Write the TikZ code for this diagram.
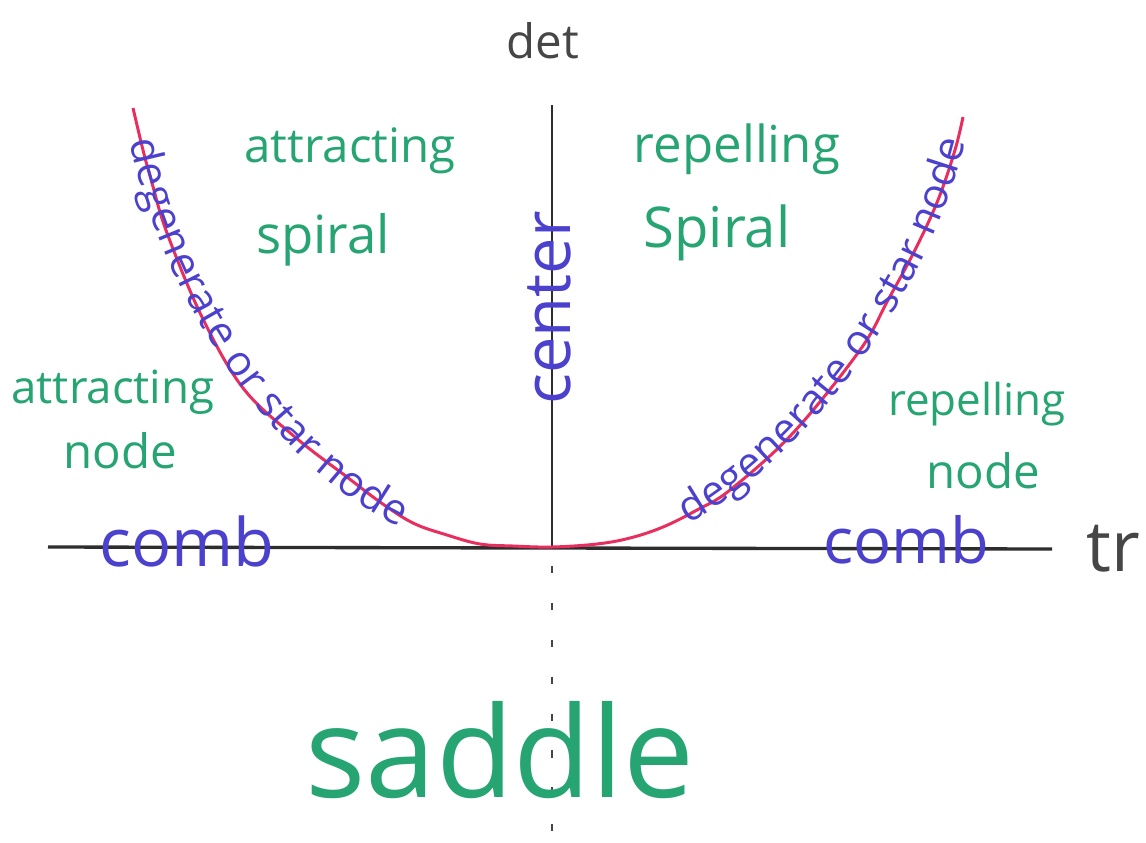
\documentclass[tikz,border=0pt]{standalone}
\usepackage{fontspec}
\setmainfont{Open Sans}
\usetikzlibrary{decorations.text}
\definecolor{mkgreen}{RGB}{38,165,115}
\definecolor{mkblue}{RGB}{75,65,205}
\definecolor{mkred}{RGB}{232,45,95}
\definecolor{axisgray}{RGB}{45,45,45}
\definecolor{pencil}{RGB}{70,70,70}
\tikzset{
  greenlbl/.style={text=mkgreen, inner sep=0pt, anchor=base},
  bluelbl/.style={text=mkblue, inner sep=0pt, anchor=base},
  pencillbl/.style={text=pencil, inner sep=0pt, anchor=base},
  axisline/.style={draw=axisgray, line width=1.9pt},
  vaxisline/.style={draw=axisgray, line width=1.4pt},
  dashaxis/.style={draw=pencil, line width=1.3pt, dash pattern=on 4pt off 17pt},
  curveline/.style={draw=mkred, line width=1.7pt},
}
\newcommand{\fs}[1]{\fontsize{#1}{#1}\selectfont}
\begin{document}
\begin{tikzpicture}[x=0.02cm, y=-0.02cm]
\useasboundingbox (0,0) rectangle (1146,842);
\fill[white] (0,0) rectangle (1146,842);
% axes
\coordinate (xl) at (48,547);
\coordinate (xr) at (1052,549);
\coordinate (yt) at (552,105);
\coordinate (o) at (552,547);
\coordinate (ds) at (552,566);
\coordinate (yb) at (552,842);
\draw[axisline] (xl) -- (xr);
\draw[vaxisline] (yt) -- (o);
\draw[dashaxis] (ds) -- (yb);
% axis labels
\node[pencillbl, font=\fs{27}] (det) at (543,58) {det};
\node[pencillbl, font=\fs{40}] (tr) at (1113,571) {tr};
% red curve det = tr^2/4
\draw[curveline] plot[smooth, tension=0.6] coordinates {
  (133,108) (143,150) (152,183) (167,233) (202,317) (243,388) (295,437)
  (347,477) (380,502) (413,523) (447,535) (480,544) (513,546) (552,547)
  (597,544) (630,538) (663,527) (697,510) (730,490) (793,433) (860,350)
  (888,300) (915,250) (938,200) (955,150) (963,117)};
% text along the curve
\coordinate (la) at (136,126);
\coordinate (lb) at (416,524);
\coordinate (ra) at (678,520);
\coordinate (rb) at (959,133);
\path[decorate, decoration={text along path, text align=center, raise=-5pt,
  text={|\fs{24}\color{mkblue}|degenerate or star node}}]
  (la) .. controls (170,310) and (300,480) .. (lb);
\path[decorate, decoration={text along path, text align=center, raise=-5pt,
  text={|\fs{24}\color{mkblue}|degenerate or star node}}]
  (ra) .. controls (790,460) and (920,300) .. (rb);
% green region labels
\node[greenlbl, font=\fs{27}] (attsp1) at (350,162) {attracting};
\node[greenlbl, font=\fs{30}] (attsp2) at (323,253) {spiral};
\node[greenlbl, font=\fs{29}] (repsp1) at (737,162) {repelling};
\node[greenlbl, font=\fs{32}] (repsp2) at (717,247) {Spiral};
\node[greenlbl, font=\fs{26}] (attnd1) at (113,403) {attracting};
\node[greenlbl, font=\fs{27}] (attnd2) at (120,468) {node};
\node[greenlbl, font=\fs{25}] (repnd1) at (977,415) {repelling};
\node[greenlbl, font=\fs{27}] (repnd2) at (983,488) {node};
\node[greenlbl, font=\fs{72}] (saddle) at (500,797) {saddle};
% blue labels
\node[bluelbl, font=\fs{38}] (comb1) at (187,566) {comb};
\node[bluelbl, font=\fs{36}] (comb2) at (906,563) {comb};
\node[bluelbl, font=\fs{37}, rotate=90] (center) at (570,308) {center};
\end{tikzpicture}
\end{document}
